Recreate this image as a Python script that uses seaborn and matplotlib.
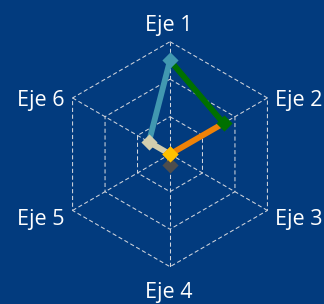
import numpy as np
import pandas as pd
import matplotlib
matplotlib.use("Agg")
import matplotlib.pyplot as plt
import seaborn as sns

# ---- data ----
axes_labels = ["Eje 1", "Eje 2", "Eje 3", "Eje 4", "Eje 5", "Eje 6"]
values = [2.5, 1.65, 0.0, 0.29, 0.0, 0.65]
point_colors = ["#4198B0", "#007000", "#EE8208", "#4D4D4D", "#FFC000", "#D3CEAE"]
ring_levels = [1, 2, 3]
r_max = 3

BG = "#023B7E"
GRID = "#D0D4DC"

sns.set_theme(style="white")
plt.rcParams["font.family"] = ["Open Sans", "DejaVu Sans"]

W, H = 324, 304
fig = plt.figure(figsize=(W / 100, H / 100), dpi=100, facecolor=BG)
cx, cy, R = 170, 154.2, 112.5
ax = fig.add_axes([(cx - R) / W, (H - cy - R) / H, 2 * R / W, 2 * R / H],
                  projection="polar")
ax.set_facecolor("none")
ax.set_theta_offset(np.pi / 2)
ax.set_theta_direction(-1)
ax.set_ylim(0, r_max)
ax.grid(False)
ax.set_xticks([])
ax.set_yticks([])
ax.spines["polar"].set_visible(False)

n = len(axes_labels)
thetas = np.arange(n) * 2 * np.pi / n
closed = np.append(thetas, 2 * np.pi)

# hexagonal grid
dash = (0, (4, 2.5))
for lv in ring_levels:
    ax.plot(closed, [lv] * (n + 1), color=GRID, lw=0.75, ls=dash, zorder=1,
            clip_on=False)
for t in thetas:
    ax.plot([t, t], [0, r_max], color=GRID, lw=0.75, ls=dash, zorder=1,
            clip_on=False)

# segments, coloured by the point they lead into
for i in range(n):
    j = i - 1
    t0 = thetas[j] if j >= 0 else thetas[n - 1] - 2 * np.pi
    seg = pd.DataFrame({"theta": [t0, thetas[i]], "r": [values[j], values[i]]})
    sns.lineplot(data=seg, x="theta", y="r", ax=ax, sort=False,
                 color=point_colors[i], lw=4.2, zorder=3, clip_on=False)

# markers
for i in range(n):
    sns.scatterplot(x=[thetas[i]], y=[values[i]], ax=ax, marker="D", s=68,
                    color=point_colors[i], edgecolor=point_colors[i],
                    linewidth=0, zorder=4 + i, clip_on=False)

ax.set_xlabel("")
ax.set_ylabel("")

# labels
offsets = [(-1, 11, "center"), (7.6, -8, "left"), (7.6, -14.5, "left"),
           (-1, -31.6, "center"), (-7.6, -14.5, "right"), (-7.6, -8, "right")]
for t, lab, (dx, dy, ha) in zip(thetas, axes_labels, offsets):
    ax.annotate(lab, xy=(t, r_max), xytext=(dx, dy), textcoords="offset pixels",
                ha=ha, va="baseline", color="white", fontsize=15.5,
                annotation_clip=False)

fig.savefig("out.png", dpi=100, facecolor=BG)
